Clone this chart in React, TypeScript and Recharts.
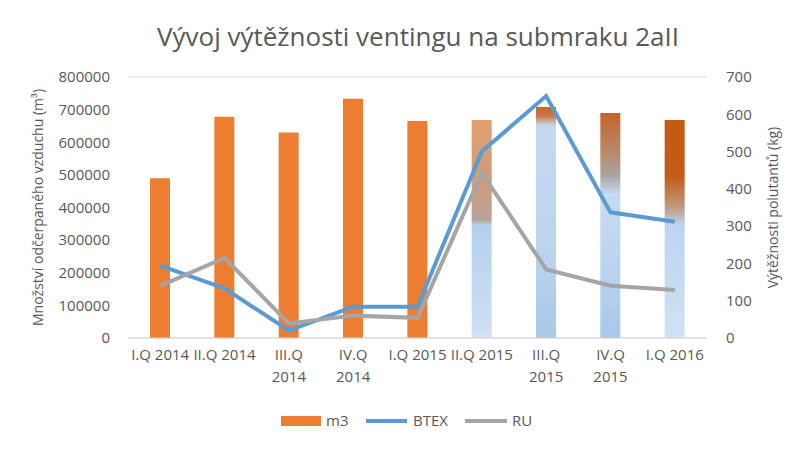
import React from 'react';
import { ComposedChart, Bar, Line, Cell, XAxis, YAxis, CartesianGrid } from 'recharts';

const quarters = [
  'I.Q 2014', 'II.Q 2014', 'III.Q 2014', 'IV.Q 2014', 'I.Q 2015',
  'II.Q 2015', 'III.Q 2015', 'IV.Q 2015', 'I.Q 2016',
];
const m3 = [490000, 678000, 630000, 733000, 665000, 668000, 708000, 690000, 668000];
const btex = [194, 133, 20, 84, 84, 500, 649, 337, 312];
const ru = [140, 215, 39, 60, 54, 443, 184, 140, 129];

const leftTicks = [0, 100000, 200000, 300000, 400000, 500000, 600000, 700000, 800000];
const rightTicks = [0, 100, 200, 300, 400, 500, 600, 700];
const boundaryTicks = [0, 1, 2, 3, 4, 5, 6, 7, 8, 9];

const data = quarters.map((q, i) => ({ q, m3: m3[i], btex: btex[i], ru: ru[i] }));

const FONT = '"Open Sans", sans-serif';
const TEXT = '#595959';
const GRID = '#d9d9d9';

// picture-like fills of the last four bars
const gradients = [
  {
    id: 'g5',
    stops: [
      ['0%', '#e29f6e'], ['30%', '#cf9c7c'], ['46%', '#b7a59c'],
      ['48%', '#b3d0ec'], ['100%', '#cfe1f3'],
    ],
  },
  {
    id: 'g6',
    stops: [
      ['0%', '#c9662a'], ['4%', '#cc7a4a'], ['8%', '#c3d9ef'],
      ['60%', '#bcd5ee'], ['100%', '#a9c9e8'],
    ],
  },
  {
    id: 'g7',
    stops: [
      ['0%', '#c5632a'], ['18%', '#b98a6c'], ['28%', '#aaa5a6'],
      ['36%', '#c5dbf0'], ['70%', '#bad4ee'], ['100%', '#a8c8e8'],
    ],
  },
  {
    id: 'g8',
    stops: [
      ['0%', '#c55a11'], ['26%', '#c45d18'], ['40%', '#bf9a80'],
      ['48%', '#bcd5ee'], ['100%', '#d0e2f4'],
    ],
  },
];

// rough label width, to wrap like the original category axis does
const charW: Record<string, number> = { I: 0.28, '.': 0.27, Q: 0.78, V: 0.6, ' ': 0.26 };
const labelWidth = (s: string) =>
  s.split('').reduce((w, c) => w + (charW[c] ?? 0.57), 0) * 15;

const QuarterTick = (props: any) => {
  const { x, y, payload } = props;
  const label: string = payload.value;
  const lines = labelWidth(label) > 64 ? label.split(' ') : [label];
  return (
    <text x={x} y={y} textAnchor="middle" fill={TEXT} fontSize={15} fontFamily={FONT}>
      {lines.map((ln) => (
        <tspan key={ln} x={x} dy={22}>
          {ln}
        </tspan>
      ))}
    </text>
  );
};

const LegendBox = () => (
  <svg width={807} height={30} style={{ position: 'absolute', left: 0, top: 406 }}>
    <rect x={281} y={10} width={40} height={10} fill="#ed7d31" />
    <text x={326} y={20} fontSize={15} fontFamily={FONT} fill={TEXT}>m3</text>
    <line x1={366} x2={407} y1={15} y2={15} stroke="#5b9bd5" strokeWidth={4} />
    <text x={413} y={20} fontSize={15} fontFamily={FONT} fill={TEXT}>BTEX</text>
    <line x1={465} x2={507} y1={15} y2={15} stroke="#a5a5a5" strokeWidth={4} />
    <text x={512} y={20} fontSize={15} fontFamily={FONT} fill={TEXT}>RU</text>
  </svg>
);

export default function App() {
  return (
    <div style={{ position: 'absolute', left: 0, top: 0, width: 807, height: 452, background: '#fff' }}>
      <div
        style={{
          position: 'absolute',
          left: 0,
          width: 836,
          top: 18,
          textAlign: 'center',
          fontFamily: FONT,
          fontSize: 26,
          color: TEXT,
          whiteSpace: 'nowrap',
        }}
      >
        Vývoj výtěžnosti ventingu na submraku 2aII
      </div>
      <ComposedChart
        width={807}
        height={452}
        data={data}
        margin={{ top: 77, right: 20, bottom: 54, left: 20 }}
        barSize={20}
      >
        <defs>
          {gradients.map((g) => (
            <linearGradient key={g.id} id={g.id} x1="0" y1="0" x2="0" y2="1">
              {g.stops.map(([o, c]) => (
                <stop key={o} offset={o} stopColor={c} />
              ))}
            </linearGradient>
          ))}
        </defs>
        <CartesianGrid vertical={false} stroke={GRID} strokeWidth={1} />
        <XAxis
          xAxisId="b"
          type="number"
          domain={[0, 9]}
          ticks={boundaryTicks}
          tick={false}
          tickSize={5}
          tickLine={{ stroke: GRID }}
          axisLine={false}
          height={0}
        />
        <XAxis
          dataKey="q"
          interval={0}
          tick={<QuarterTick />}
          tickLine={false}
          tickSize={0}
          tickMargin={0}
          axisLine={{ stroke: GRID }}
          height={60}
        />
        <YAxis
          yAxisId="left"
          domain={[0, 800000]}
          ticks={leftTicks}
          tick={{ fill: TEXT, fontSize: 15, fontFamily: FONT }}
          tickLine={false}
          axisLine={false}
          tickSize={0}
          tickMargin={18}
          width={108}
          label={{
            value: 'Množství odčerpaného vzduchu (m³)',
            angle: -90,
            position: 'insideLeft',
            offset: 18,
            style: { textAnchor: 'middle', fill: TEXT, fontSize: 14, fontFamily: FONT },
          }}
        />
        <YAxis
          yAxisId="right"
          orientation="right"
          domain={[0, 700]}
          ticks={rightTicks}
          tick={{ fill: TEXT, fontSize: 15, fontFamily: FONT, textAnchor: 'start' }}
          tickLine={false}
          axisLine={false}
          tickSize={0}
          tickMargin={19}
          width={80}
          label={{
            value: 'Výtěžnosti polutantů (kg)',
            angle: -90,
            position: 'insideRight',
            offset: 14,
            style: { textAnchor: 'middle', fill: TEXT, fontSize: 14, fontFamily: FONT },
          }}
        />
        <Bar yAxisId="left" dataKey="m3" fill="#ed7d31" isAnimationActive={false}>
          {data.map((d, i) => (
            <Cell key={d.q} fill={i >= 5 ? `url(#${gradients[i - 5].id})` : '#ed7d31'} />
          ))}
        </Bar>
        <Line
          yAxisId="right"
          dataKey="btex"
          stroke="#5b9bd5"
          strokeWidth={4}
          dot={false}
          activeDot={false}
          isAnimationActive={false}
        />
        <Line
          yAxisId="right"
          dataKey="ru"
          stroke="#a5a5a5"
          strokeWidth={4}
          dot={false}
          activeDot={false}
          isAnimationActive={false}
        />
      </ComposedChart>
      <LegendBox />
    </div>
  );
}
